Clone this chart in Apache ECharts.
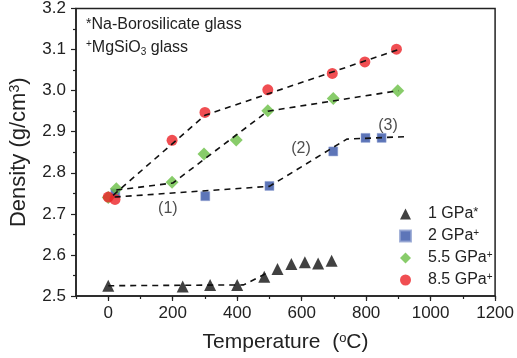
<!DOCTYPE html>
<html>
<head>
<meta charset="utf-8">
<script src="https://cdn.jsdelivr.net/npm/echarts@6/dist/echarts.min.js"></script>
<style>html,body{margin:0;padding:0;background:#fff}</style>
</head>
<body>
<div id="chart" style="width:517px;height:358px"></div>
<script>
// measured points
const gpa1Temp = [0, 231, 316, 400, 484, 525, 568, 610, 651, 693]
const gpa1Dens = [2.525, 2.523, 2.527, 2.527, 2.547, 2.566, 2.578, 2.582, 2.579, 2.586]
const gpa2Temp = [22, 301, 500, 698, 798, 848]
const gpa2Dens = [2.75, 2.743, 2.768, 2.852, 2.885, 2.885]
const gpa55Temp = [0, 25, 198, 297, 397, 495, 698, 898]
const gpa55Dens = [2.74, 2.761, 2.777, 2.846, 2.88, 2.951, 2.981, 3.0]
const gpa85Temp = [0, 21, 198, 300, 495, 695, 796, 894]
const gpa85Dens = [2.741, 2.735, 2.879, 2.947, 3.002, 3.042, 3.07, 3.101]

// dashed guide lines
const fit1Temp = [0, 420, 495]
const fit1Dens = [2.525, 2.527, 2.557]
const fitLowTemp = [20, 500, 740, 920]
const fitLowDens = [2.741, 2.767, 2.882, 2.888]
const fitGreenTemp = [25, 200, 495, 900]
const fitGreenDens = [2.758, 2.775, 2.95, 3.0]
const fitRedTemp = [15, 300, 900]
const fitRedDens = [2.745, 2.94, 3.1]

// annotations
const annoTemp = [185, 598, 868]
const annoDens = [2.712, 2.858, 2.915]
const annoText = ['(1)', '(2)', '(3)']

const xMajor = [0, 200, 400, 600, 800, 1000, 1200]
const seriesNames = ['1 GPa', '2 GPa', '5.5 GPa', '8.5 GPa']
const seriesSup = ['*', '+', '+', '+']

const font = 'Liberation Sans'
const ink = '#222'

function pairs (xs, ys) {
  return xs.map(function (x, i) { return [x, ys[i]] })
}

function fitLine (xs, ys) {
  return {
    type: 'line',
    data: pairs(xs, ys),
    showSymbol: false,
    silent: true,
    z: 5,
    lineStyle: { color: '#111', width: 1.6, type: [6, 5] }
  }
}

let mychart = echarts.init(document.getElementById('chart'))
mychart.setOption({
  animation: false,
  textStyle: { fontFamily: font },
  grid: {
    left: 76, right: 20, top: 7, bottom: 62,
    show: true, borderColor: ink, borderWidth: 1.5
  },
  graphic: [{
    type: 'text', left: 86, top: 17,
    style: {
      text: '{sup|*}Na-Borosilicate glass',
      font: '16px "Liberation Sans"', fill: ink,
      rich: { sup: { fontSize: 14, verticalAlign: 'top', fill: ink } }
    }
  }, {
    type: 'text', left: 86, top: 39,
    style: {
      text: '{sup|+}MgSiO{sub|3} glass',
      font: '16px "Liberation Sans"', fill: ink,
      rich: {
        sup: { fontSize: 10, verticalAlign: 'top', fill: ink },
        sub: { fontSize: 10, verticalAlign: 'bottom', fill: ink, padding: [8, 0, 0, 0] }
      }
    }
  }],
  legend: {
    data: seriesNames,
    orient: 'vertical',
    left: 394,
    top: 201,
    itemWidth: 11,
    itemHeight: 11,
    itemGap: 6,
    textStyle: {
      fontSize: 16, color: ink, fontFamily: font,
      padding: [0, 0, 0, 12],
      rich: {
        star: { fontSize: 13, verticalAlign: 'top', color: ink },
        sup: { fontSize: 10, verticalAlign: 'top', color: ink }
      }
    },
    formatter: function (name) {
      const s = seriesSup[seriesNames.indexOf(name)]
      return name + (s === '*' ? '{star|*}' : '{sup|+}')
    }
  },
  xAxis: [{
    type: 'value', min: -100, max: 1200, interval: 100,
    name: 'Temperature  ({sup|o}C)',
    nameLocation: 'middle',
    nameGap: 36,
    nameTextStyle: {
      fontSize: 21, color: ink,
      rich: { sup: { fontSize: 13, verticalAlign: 'top', color: ink } }
    },
    axisLine: { onZero: false, lineStyle: { color: ink, width: 1.5 } },
    axisTick: { length: 3, lineStyle: { color: ink, width: 1.2 } },
    axisLabel: {
      fontSize: 17, color: ink, margin: 9,
      formatter: function (v) { return v % 200 === 0 ? String(v) : '' }
    },
    splitLine: { show: false }
  }, {
    type: 'value', min: -100, max: 1200, interval: 100,
    position: 'bottom',
    axisLine: { show: false, onZero: false },
    axisTick: { length: 5, customValues: xMajor, lineStyle: { color: ink, width: 1.2 } },
    axisLabel: { show: false },
    splitLine: { show: false }
  }],
  yAxis: {
    type: 'value', min: 2.5, max: 3.2, interval: 0.1,
    name: 'Density (g/cm{sup|3})',
    nameLocation: 'middle',
    nameRotate: 90,
    nameGap: 46,
    nameTextStyle: {
      fontSize: 22, color: ink,
      rich: { sup: { fontSize: 14, verticalAlign: 'top', color: ink } }
    },
    axisLine: { show: true, onZero: false, lineStyle: { color: ink, width: 1.5 } },
    axisTick: { show: true, length: 5, lineStyle: { color: ink, width: 1.2 } },
    minorTick: { show: true, splitNumber: 2, length: 3, lineStyle: { color: ink, width: 1.2 } },
    axisLabel: {
      fontSize: 17, color: ink, margin: 10,
      formatter: function (v) { return v.toFixed(1) }
    },
    splitLine: { show: false }
  },
  series: [{
    name: '1 GPa', type: 'scatter', symbol: 'triangle', symbolSize: 12,
    itemStyle: { color: '#111' },
    data: pairs(gpa1Temp, gpa1Dens)
  }, {
    name: '2 GPa', type: 'scatter', symbol: 'rect', symbolSize: 9,
    itemStyle: { color: '#3553a6', borderColor: '#8fa0d0', borderWidth: 0.6 },
    data: pairs(gpa2Temp, gpa2Dens)
  }, {
    name: '5.5 GPa', type: 'scatter', symbol: 'diamond', symbolSize: 13,
    itemStyle: { color: '#6abf45' },
    data: pairs(gpa55Temp, gpa55Dens)
  }, {
    name: '8.5 GPa', type: 'scatter', symbol: 'circle', symbolSize: 11,
    itemStyle: { color: '#ec2227' },
    data: pairs(gpa85Temp, gpa85Dens)
  },
  fitLine(fit1Temp, fit1Dens),
  fitLine(fitLowTemp, fitLowDens),
  fitLine(fitGreenTemp, fitGreenDens),
  fitLine(fitRedTemp, fitRedDens),
  {
    type: 'scatter', symbolSize: 0, silent: true,
    data: annoTemp.map(function (t, i) { return [t, annoDens[i], annoText[i]] }),
    label: {
      show: true, position: 'inside', fontSize: 16, color: ink,
      formatter: function (p) { return p.value[2] }
    }
  }]
})
</script>
</body>
</html>
